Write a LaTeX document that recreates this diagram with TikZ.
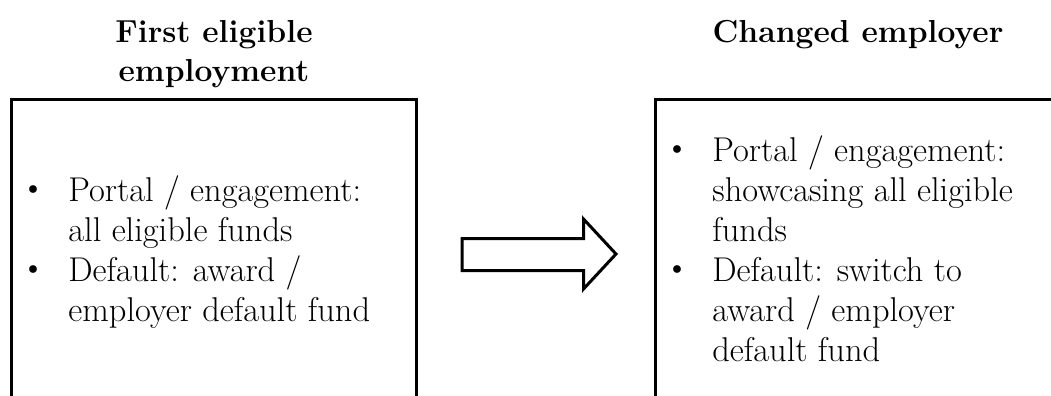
\documentclass[tikz,border=0pt]{standalone}
\usepackage{amsmath,amssymb}
\usepackage{tikz}

\newcommand{\blt}{\llap{\raisebox{3.8pt}{\fontsize{10}{10}\selectfont$\bullet$}\hspace{15.2pt}}}

\begin{document}
\begin{tikzpicture}[x=0.5pt, y=-0.5pt,
  heading/.style={font=\fontsize{15.9}{20}\selectfont\bfseries, align=center, inner sep=0pt},
  bodytext/.style={font=\fontsize{17.2}{20}\selectfont, align=left, inner sep=0pt},
  frame/.style={line width=1.8pt, line join=miter},
  bigarrow/.style={line width=1.5pt, line join=miter}]
\useasboundingbox (0,0) rectangle (1051,396);

% left box (open at the bottom)
\coordinate (lfoot) at (11.5,396);
\coordinate (ltopl) at (11.5,99.5);
\coordinate (ltopr) at (416.5,99.5);
\coordinate (rfoot) at (416.5,396);
\draw[frame] (lfoot) -- (ltopl) -- (ltopr) -- (rfoot);

% right box (runs off the page)
\coordinate (cfoot) at (655.5,396);
\coordinate (ctopl) at (655.5,99.5);
\coordinate (ctopr) at (1060,99.5);
\draw[frame] (cfoot) -- (ctopl) -- (ctopr);

% anchors sit on the last line's baseline
\node[heading, anchor=base] (firsttitle) at (214,82) {First eligible\\employment};
\node[heading, anchor=base] (changedtitle) at (858,42) {Changed employer};

\node[bodytext, anchor=base west] (firstitems) at (68,321.7)
  {\blt Portal / engagement:\\all eligible funds\\\blt Default: award /\\employer default fund};
\node[bodytext, anchor=base west] (changeditems) at (712,361.7)
  {\blt Portal / engagement:\\showcasing all eligible\\funds\\\blt Default: switch to\\award / employer\\default fund};

% block arrow
\draw[bigarrow] (462,238.5) -- (583.5,238.5) -- (583.5,219) -- (616,254)
  -- (583.5,289) -- (583.5,270.5) -- (462,270.5) -- cycle;
\end{tikzpicture}
\end{document}
